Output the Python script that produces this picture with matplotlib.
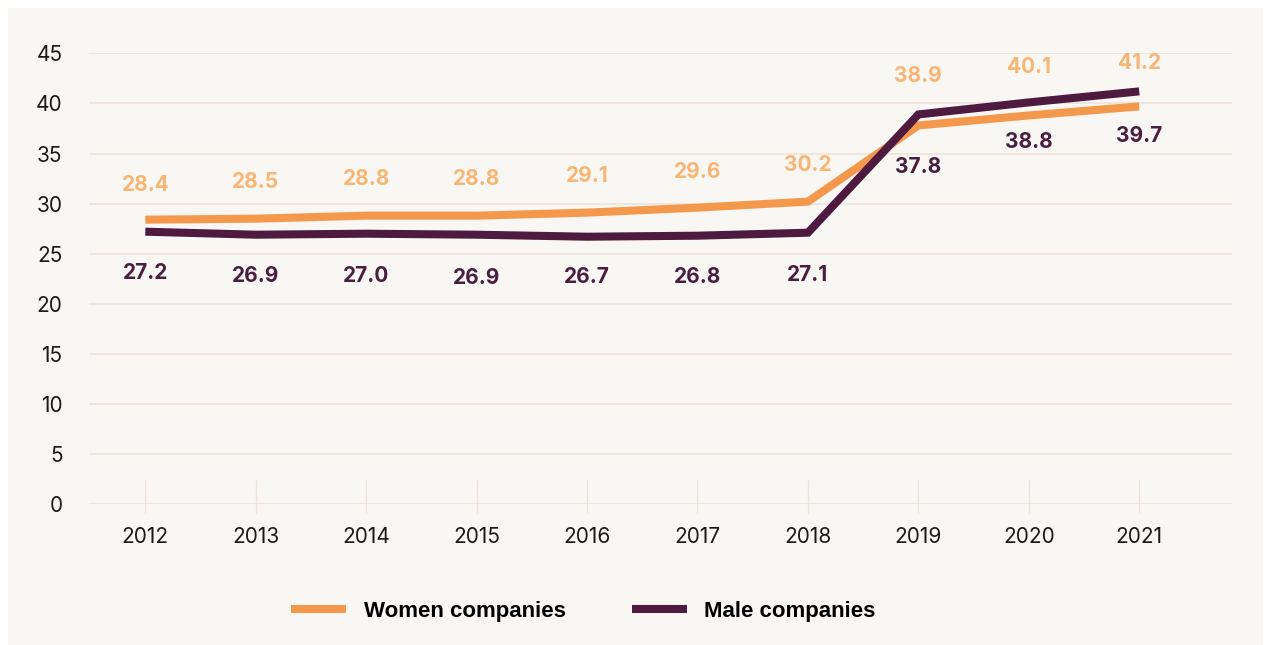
import matplotlib
matplotlib.use("Agg")
import matplotlib.pyplot as plt
from matplotlib.patches import Rectangle
from matplotlib.lines import Line2D

years = ["2012", "2013", "2014", "2015", "2016", "2017", "2018", "2019", "2020", "2021"]
# line values as drawn
women_line = [28.4, 28.5, 28.8, 28.8, 29.1, 29.6, 30.2, 37.8, 38.8, 39.7]
male_line = [27.2, 26.9, 27.0, 26.9, 26.7, 26.8, 27.1, 38.9, 40.1, 41.2]
# value labels as printed
women_labels = [28.4, 28.5, 28.8, 28.8, 29.1, 29.6, 30.2, 38.9, 40.1, 41.2]
male_labels = [27.2, 26.9, 27.0, 26.9, 26.7, 26.8, 27.1, 37.8, 38.8, 39.7]
yticks = [0, 5, 10, 15, 20, 25, 30, 35, 40, 45]

# label offsets in pixels (layout only)
women_off = [35, 37, 37, 37, 37, 36, 37, 38, 35, 28]
male_off = [41, 41, 42, 43, 40, 41, 42, 42, 27, 30]

ORANGE = "#F4994B"
ORANGE_LBL = "#F8B574"
PURPLE = "#4F1A40"
PURPLE_LBL = "#4A1E3F"
BG = "#F9F7F4"
GRID = "#F0E3D9"

W, H = 1269, 645
fig = plt.figure(figsize=(W / 100, H / 100), dpi=100)
fig.patch.set_facecolor("white")
fig.patches.append(Rectangle((8 / W, 0), (1263 - 8) / W, (H - 8) / H,
                             transform=fig.transFigure, facecolor=BG,
                             edgecolor="none", zorder=-5))

ax = fig.add_axes([89 / W, 1 - 504.3 / H, (1232 - 89) / W, (504.3 - 53.3) / H])
ax.set_zorder(2)
ax.set_facecolor("none")
x = list(range(len(years)))

ax.set_ylim(0, 45)
ax.set_xlim(-0.51, 9.84)
ax.set_yticks(yticks)
ax.set_yticklabels([str(v) for v in yticks], fontfamily="Inter", fontsize=15, color="#1a1a1a")
ax.set_xticks(x)
ax.set_xticklabels(years, fontfamily="Inter", fontsize=15, color="#1a1a1a")
ax.tick_params(axis="y", length=0, pad=19)
ax.tick_params(axis="x", length=6.5, width=1, color=GRID, pad=10)
for s in ax.spines.values():
    s.set_visible(False)
ax.grid(axis="y", color=GRID, linewidth=1.2, zorder=1)
ax.set_axisbelow(True)
ax.vlines(x, 0, 2.4, color=GRID, linewidth=1, zorder=1)

ax.plot(x, women_line, color=ORANGE, linewidth=5.8, solid_capstyle="butt",
        solid_joinstyle="miter", zorder=3)
ax.plot(x, male_line, color=PURPLE, linewidth=5.8, solid_capstyle="butt",
        solid_joinstyle="miter", zorder=4)

for xi, v, o in zip(x, women_labels, women_off):
    ax.annotate(f"{v:.1f}", (xi, v), xytext=(0, o), textcoords="offset pixels",
                ha="center", va="center", fontfamily="Inter", fontweight="bold",
                fontsize=15, color=ORANGE_LBL, zorder=5)
for xi, v, o in zip(x, male_labels, male_off):
    ax.annotate(f"{v:.1f}", (xi, v), xytext=(0, -o), textcoords="offset pixels",
                ha="center", va="center", fontfamily="Inter", fontweight="bold",
                fontsize=15, color=PURPLE_LBL, zorder=5)

handles = [Line2D([], [], color=ORANGE, linewidth=5.8, solid_capstyle="butt"),
           Line2D([], [], color=PURPLE, linewidth=5.8, solid_capstyle="butt")]
leg = fig.legend(handles, ["Women companies", "Male companies"], ncol=2,
                 loc="center", bbox_to_anchor=(583.5 / W, 1 - 611 / H),
                 frameon=False, prop={"family": "Liberation Sans", "weight": "bold", "size": 16},
                 handlelength=2.45, handletextpad=0.8, columnspacing=3.0)
leg.set_zorder(3)

fig.savefig("out.png", dpi=100, facecolor="white")
